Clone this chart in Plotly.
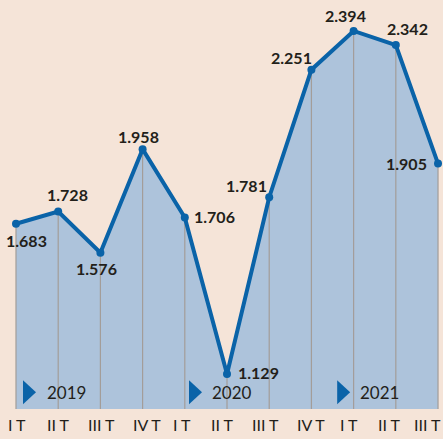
import plotly.graph_objects as go

# ---- data ----
quarters = ["I T", "II T", "III T", "IV T", "I T", "II T", "III T", "IV T", "I T", "II T", "III T"]
values = [1.683, 1.728, 1.576, 1.958, 1.706, 1.129, 1.781, 2.251, 2.394, 2.342, 1.905]
years = ["2019", "2020", "2021"]

# ---- styling / layout helpers (not data) ----
BG = "#f5e4d8"
AREA = "#adc3db"
LINE = "#0a63a8"
GRID = "#a39d99"
TXT = "#231f1a"
FONT = "Lato"

x = list(range(len(values)))
base = 1.0

# label pixel offsets (xshift, yshift) per point
label_offsets = [(11, -17), (9, 17), (-4, -16), (-4, 13), (30, 1), (31, 2),
                 (-23, 12), (-20, 12), (-8, 15), (12, 17), (-32, 0)]
# quarter label x shifts (pixels)
tick_shifts = [1, 0, 1, 4, -3, -5, -4, 0, -5, -6, 5]
# year marker positions along x (triangle left, text left) and y level
year_tri_x = [0.166, 4.10, 7.61]
year_txt_x = [0.687, 4.60, 8.10]
year_y = 1.062

fig = go.Figure()

# area
fig.add_trace(go.Scatter(x=x, y=values, mode="none", fill="tozeroy",
                         fillcolor=AREA, hoverinfo="skip", showlegend=False))

# vertical drop lines
vx, vy = [], []
for xi, v in zip(x, values):
    vx += [xi, xi, None]
    vy += [base, v, None]
fig.add_trace(go.Scatter(x=vx, y=vy, mode="lines", line=dict(color=GRID, width=1.2),
                         hoverinfo="skip", showlegend=False))

# main line
fig.add_trace(go.Scatter(x=x, y=values, mode="lines+markers",
                         line=dict(color=LINE, width=4),
                         marker=dict(color=LINE, size=8),
                         showlegend=False))

annotations = []
for xi, v, (dx, dy) in zip(x, values, label_offsets):
    annotations.append(dict(x=xi, y=v, xref="x", yref="y", text=f"{v:.3f}",
                            showarrow=False, xshift=dx, yshift=dy,
                            font=dict(family=FONT, size=16, color=TXT, weight="bold")))

# quarter labels under the axis
n = len(x)
for i, (xi, q, sh) in enumerate(zip(x, quarters, tick_shifts)):
    last = i == n - 1
    annotations.append(dict(x=xi, y=-0.039, xref="x", yref="paper", text=q, showarrow=False,
                            xanchor="right" if last else "center", yanchor="middle",
                            xshift=sh,
                            font=dict(family=FONT, size=16, color=TXT)))

shapes = []
for yr, tx, ttx in zip(years, year_tri_x, year_txt_x):
    shapes.append(dict(type="path", xref="x", yref="y", xsizemode="pixel", ysizemode="pixel",
                       xanchor=tx, yanchor=year_y, path="M 0,12 L 13,0 L 0,-12 Z",
                       fillcolor=LINE, line=dict(width=0)))
    annotations.append(dict(x=ttx, y=year_y, xref="x", yref="y", text=yr, showarrow=False,
                            xanchor="left", yanchor="middle",
                            font=dict(family=FONT, size=17, color=TXT)))

fig.update_layout(
    width=443, height=439,
    margin=dict(l=0, r=0, t=0, b=30),
    paper_bgcolor=BG, plot_bgcolor=BG,
    annotations=annotations, shapes=shapes,
    xaxis=dict(range=[-0.379, 10.118], showticklabels=False,
               showgrid=False, zeroline=False, showline=False, ticks="",
               automargin=False, fixedrange=True),
    yaxis=dict(range=[1.0, 2.508], showgrid=False, zeroline=False, showline=False,
               showticklabels=False, automargin=False, fixedrange=True),
)

fig.write_html("out.html", config={"displayModeBar": False},
               post_script="document.body.style.margin='0';document.body.style.overflow='hidden';")
